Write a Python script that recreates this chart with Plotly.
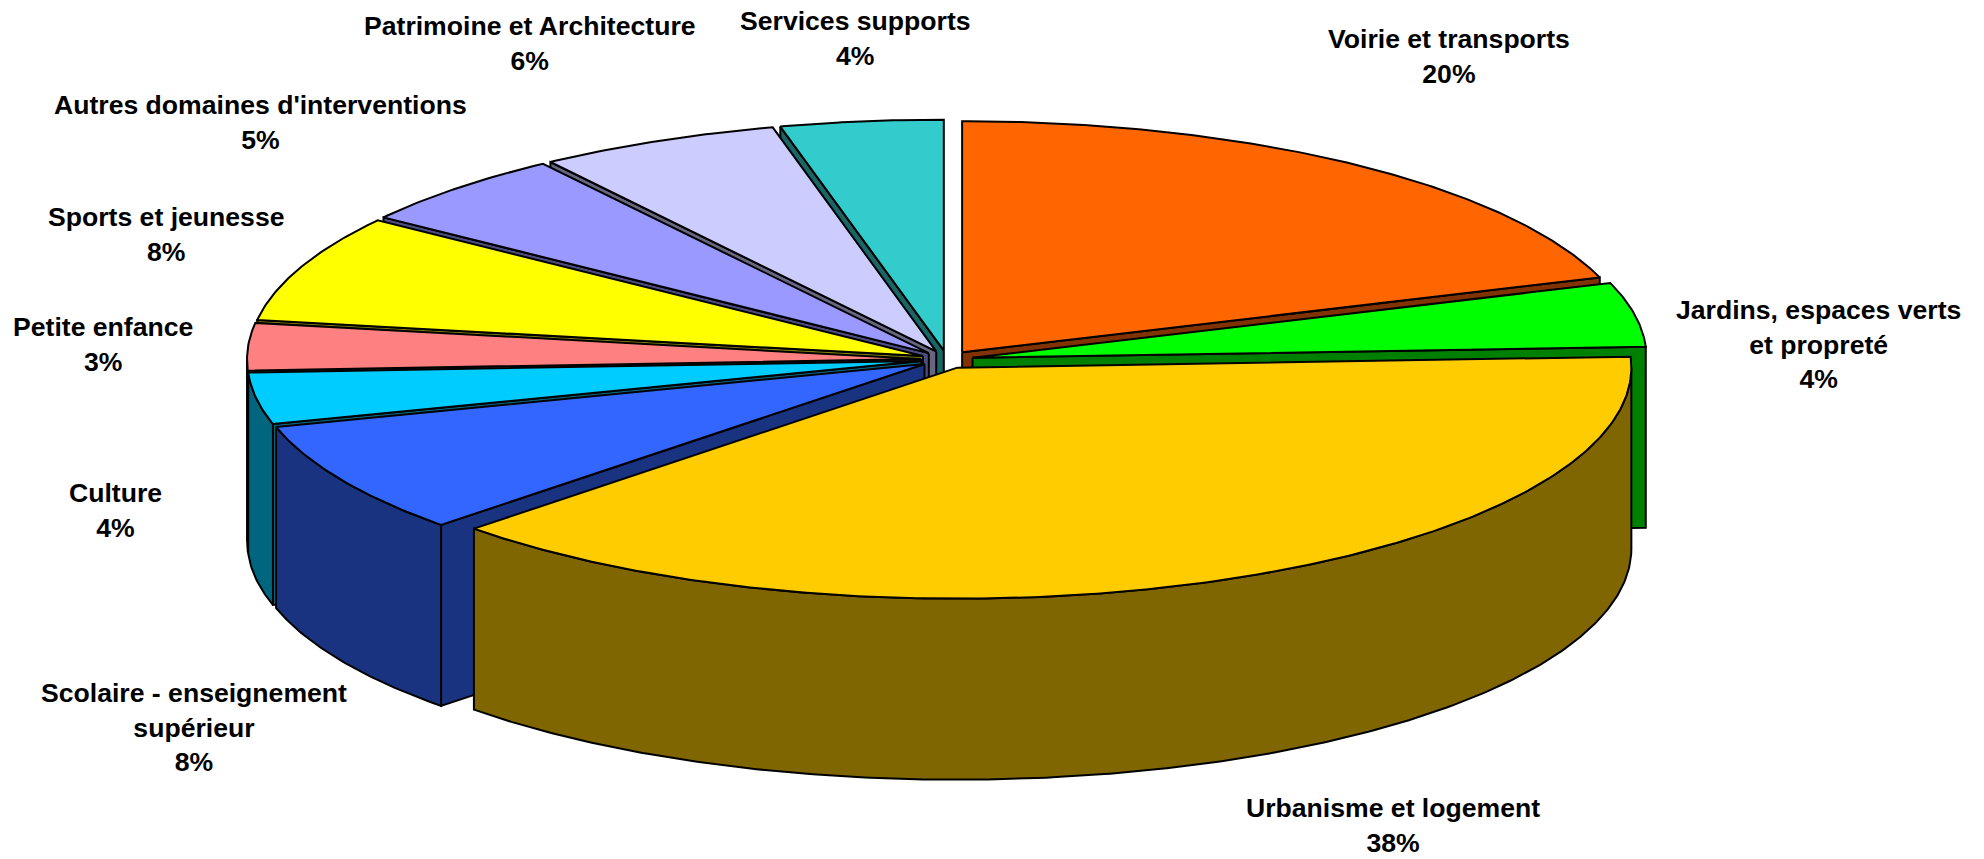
import math
import plotly.graph_objects as go

# Data, clockwise from 12 o'clock (percent shares)
categories = ["Voirie et transports", "Jardins, espaces verts<br>et propreté", "Urbanisme et logement",
              "Scolaire - enseignement<br>supérieur", "Culture", "Petite enfance", "Sports et jeunesse",
              "Autres domaines d'interventions", "Patrimoine et Architecture", "Services supports"]
values = [19.75, 4.49, 38.49, 7.87, 3.6, 3.3, 7.5, 5.3, 5.8, 3.9]
top_colors = ["#FF6600", "#00FF00", "#FFCC00", "#3366FF", "#00CCFF",
              "#FF8080", "#FFFF00", "#9999FF", "#CCCCFF", "#33CCCC"]
side_colors = ["#803300", "#008000", "#806600", "#1A3380", "#006680",
               "#804040", "#808000", "#4D4D80", "#666680", "#1A6666"]
label_x = [1449, 1818, 1393, 193.6, 115.8, 103, 165.8, 260, 529.5, 855]
label_y = [56.8, 344, 825, 727.6, 510, 344, 234.7, 122, 43.7, 38]
draw_order = [0, 9, 8, 7, 6, 5, 4, 1, 3, 2]

# Projection of the tilted pie
CX, CY, RX, RY, DEPTH, EXPLODE = 947.0, 359.5, 674.0, 231.0, 181.0, 26.0
LINE = dict(color="#000000", width=2)

fig = go.Figure()


def poly(xs, ys, color):
    fig.add_trace(go.Scatter(x=xs + xs[:1], y=ys + ys[:1], mode="lines", fill="toself",
                             fillcolor=color, line=LINE, hoverinfo="skip", showlegend=False))


total = sum(values)
bounds = [0.0]
for v in values:
    bounds.append(bounds[-1] + v / total * 360.0)


def arc(t0, t1, ox, oy):
    n = max(2, int(abs(t1 - t0) * 2) + 2)
    ts = [math.radians(t0 + (t1 - t0) * k / (n - 1)) for k in range(n)]
    return [ox + RX * math.sin(t) for t in ts], [oy - RY * math.cos(t) for t in ts]


for i in draw_order:
    t0, t1 = bounds[i], bounds[i + 1]
    mid = math.radians((t0 + t1) / 2)
    ox = CX + EXPLODE * math.sin(mid)
    oy = CY - EXPLODE * RY / RX * math.cos(mid)
    # visible cut faces
    for t, visible in ((t0, math.sin(math.radians(t0)) < 0), (t1, math.sin(math.radians(t1)) > 0)):
        if visible:
            ex = ox + RX * math.sin(math.radians(t))
            ey = oy - RY * math.cos(math.radians(t))
            poly([ox, ex, ex, ox], [oy, ey, ey + DEPTH, oy + DEPTH], side_colors[i])
    # outer wall on the near half
    a, b = max(t0, 90.0), min(t1, 270.0)
    if b > a:
        xs, ys = arc(a, b, ox, oy)
        poly(xs + xs[::-1], ys + [y + DEPTH for y in ys[::-1]], side_colors[i])
    # top surface
    xs, ys = arc(t0, t1, ox, oy)
    poly([ox] + xs, [oy] + ys, top_colors[i])

for name, v, x, y in zip(categories, values, label_x, label_y):
    fig.add_annotation(x=x, y=y, xref="x", yref="y", showarrow=False, align="center",
                       xanchor="center", yanchor="middle",
                       text=f"<b>{name}<br>{round(v)}%</b>",
                       font=dict(family="Liberation Sans", size=26.6, color="#000000"))

fig.update_layout(width=1984, height=859, margin=dict(l=0, r=0, t=0, b=0), autosize=False,
                  paper_bgcolor="#FFFFFF", plot_bgcolor="#FFFFFF",
                  xaxis=dict(range=[0, 1984], visible=False, fixedrange=True),
                  yaxis=dict(range=[859, 0], visible=False, fixedrange=True))

fig.write_html("out.html", config={"displayModeBar": False},
               post_script="document.body.style.margin='0';document.body.style.overflow='hidden';")
